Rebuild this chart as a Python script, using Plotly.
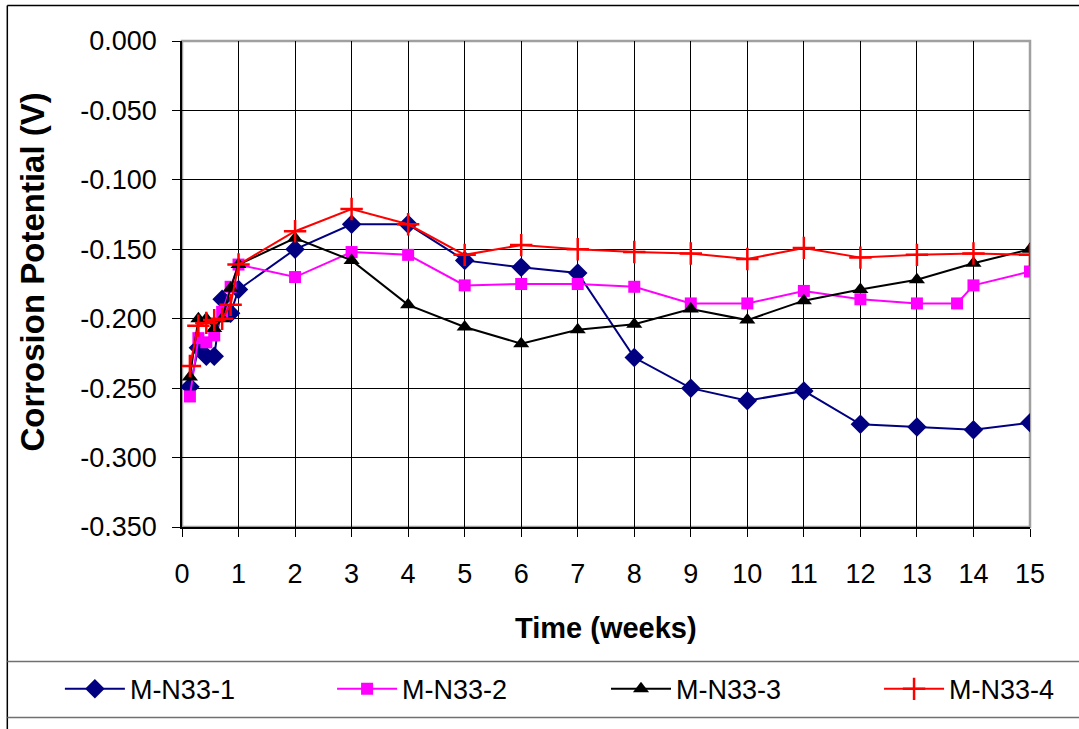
import plotly.graph_objects as go

# Measurement times (weeks): daily for the first week, then weekly
weeks = [0.14, 0.29, 0.43, 0.57, 0.71, 0.86, 1, 2, 3, 4, 5, 6, 7, 8,
         9, 10, 11, 12, 13, 14, 15]
weeks_2 = [0.14, 0.29, 0.43, 0.57, 0.71, 0.86, 1, 2, 3, 4, 5, 6, 7, 8,
           9, 10, 11, 12, 13, 13.71, 14, 15]

# Corrosion potential (V) per specimen
m_n33_1 = [-0.249, -0.221, -0.227, -0.227, -0.186, -0.196, -0.179, -0.150,
           -0.132, -0.132, -0.158, -0.163, -0.167, -0.228, -0.250, -0.259,
           -0.252, -0.276, -0.278, -0.280, -0.275]
m_n33_2 = [-0.256, -0.214, -0.217, -0.212, -0.195, -0.177, -0.161, -0.170,
           -0.152, -0.154, -0.176, -0.175, -0.175, -0.177, -0.189, -0.189,
           -0.180, -0.186, -0.189, -0.189, -0.176, -0.166]
m_n33_3 = [-0.242, -0.200, -0.200, -0.207, -0.200, -0.178, -0.161, -0.142,
           -0.158, -0.190, -0.206, -0.218, -0.208, -0.204, -0.193, -0.201,
           -0.187, -0.179, -0.172, -0.160, -0.150]
m_n33_4 = [-0.234, -0.205, -0.203, -0.201, -0.200, -0.190, -0.161, -0.137,
           -0.121, -0.132, -0.154, -0.147, -0.150, -0.152, -0.153, -0.157,
           -0.149, -0.156, -0.154, -0.153, -0.154]

x_ticks = list(range(0, 16))
y_ticks = [0.0, -0.05, -0.10, -0.15, -0.20, -0.25, -0.30, -0.35]
y_tick_text = ["0.000", "-0.050", "-0.100", "-0.150", "-0.200", "-0.250",
               "-0.300", "-0.350"]

FONT = "Liberation Sans, Arial, sans-serif"

fig = go.Figure()
fig.add_trace(go.Scatter(
    x=weeks, y=m_n33_1, name="M-N33-1", mode="lines+markers",
    legend="legend",
    line=dict(color="#000080", width=2),
    marker=dict(symbol="diamond", size=15, color="#000080")))
fig.add_trace(go.Scatter(
    x=weeks_2, y=m_n33_2, name="M-N33-2", mode="lines+markers",
    legend="legend2",
    line=dict(color="#FF00FF", width=2),
    marker=dict(symbol="square", size=12, color="#FF00FF")))
fig.add_trace(go.Scatter(
    x=weeks, y=m_n33_3, name="M-N33-3", mode="lines+markers",
    legend="legend3",
    line=dict(color="#000000", width=2),
    marker=dict(symbol="triangle-up", size=14, color="#000000")))
fig.add_trace(go.Scatter(
    x=weeks, y=m_n33_4, name="M-N33-4", mode="lines+markers",
    legend="legend4",
    line=dict(color="#FF0000", width=2),
    marker=dict(symbol="cross-thin", size=16, color="#FF0000",
                line=dict(color="#FF0000", width=2.5))))

axis_common = dict(
    showgrid=True, gridcolor="#000000", gridwidth=1,
    zeroline=False, showline=True, linecolor="#000000", linewidth=1.5,
    ticks="outside", ticklen=8, tickcolor="#000000", tickwidth=1,
    tickfont=dict(family=FONT, size=27, color="#000000"),
)

fig.update_xaxes(range=[0, 15], tickvals=x_ticks, ticklabelstandoff=14,
                 **axis_common)
fig.update_yaxes(range=[-0.35, 0.0], tickvals=y_ticks, ticktext=y_tick_text,
                 ticklabelstandoff=10, **axis_common)

# Axis titles
fig.add_annotation(text="<b>Time (weeks)</b>", xref="paper", yref="paper",
                   x=0.5, y=-0.207, xanchor="center", yanchor="middle",
                   showarrow=False,
                   font=dict(family=FONT, size=29, color="#000000"))
fig.add_annotation(text="<b>Corrosion Potential (V)</b>", xref="paper",
                   yref="paper", x=-0.176, y=0.525, xanchor="center",
                   yanchor="middle", textangle=-90, showarrow=False,
                   font=dict(family=FONT, size=33, color="#000000"))

# Plot-area frame (top/right in grey), chart border and legend box
fig.add_shape(type="rect", xref="paper", yref="paper", x0=0, x1=1, y0=0,
              y1=1, line=dict(color="#A0A0A0", width=2.5), layer="below")
fig.add_shape(type="line", xref="paper", yref="paper", x0=-0.206, x1=1.1,
              y0=1.073, y1=1.073, line=dict(color="#000000", width=1.5))
fig.add_shape(type="line", xref="paper", yref="paper", x0=-0.206, x1=-0.206,
              y0=-0.45, y1=1.073, line=dict(color="#000000", width=1.5))
fig.add_shape(type="line", xref="paper", yref="paper", x0=-0.206, x1=1.1,
              y0=-0.277, y1=-0.277, line=dict(color="#707070", width=1.5))
fig.add_shape(type="line", xref="paper", yref="paper", x0=-0.206, x1=1.1,
              y0=-0.392, y1=-0.392, line=dict(color="#707070", width=1.5))

legend_common = dict(orientation="h", y=-0.334, yanchor="middle",
                     xanchor="left", itemwidth=60,
                     bgcolor="rgba(0,0,0,0)",
                     font=dict(family=FONT, size=27, color="#000000"))

fig.update_layout(
    width=1079, height=729,
    margin=dict(l=182, r=49, t=41, b=202),
    paper_bgcolor="#FFFFFF", plot_bgcolor="#FFFFFF",
    font=dict(family=FONT, size=27, color="#000000"),
    showlegend=True,
    legend=dict(x=-0.144, **legend_common),
    legend2=dict(x=0.177, **legend_common),
    legend3=dict(x=0.500, **legend_common),
    legend4=dict(x=0.822, **legend_common),
)

fig.write_html("out.html")
